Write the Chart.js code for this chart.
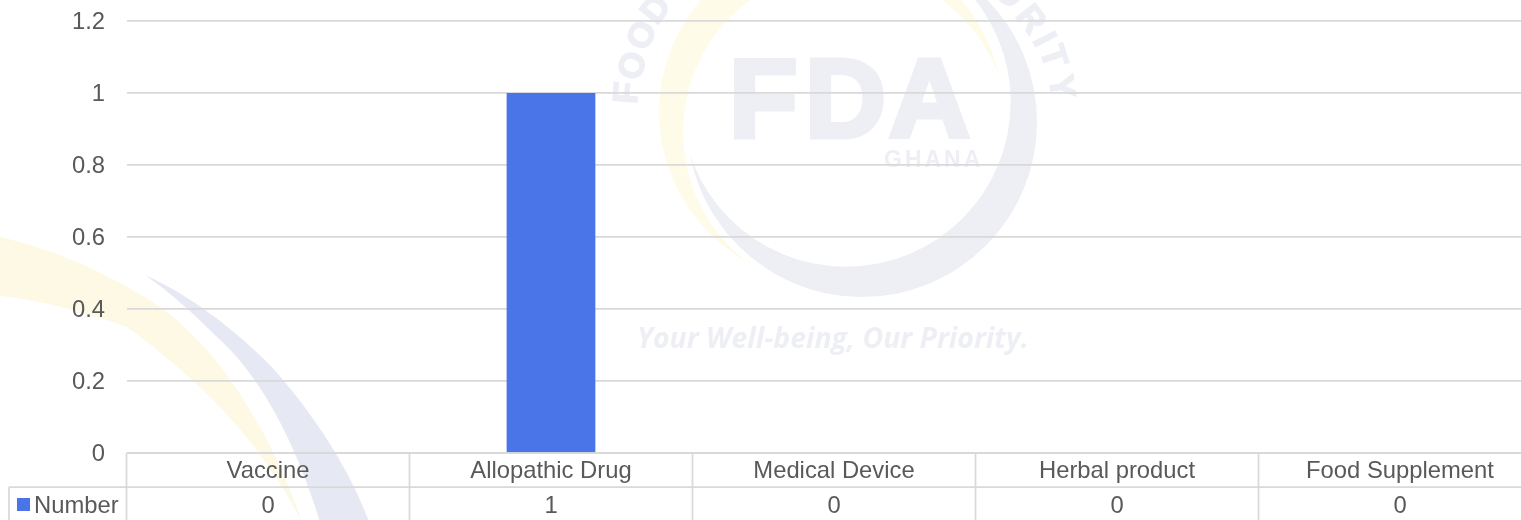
<!DOCTYPE html>
<html><head><meta charset="utf-8">
<style>html,body{margin:0;padding:0;background:#fff;overflow:hidden;width:1521px;height:520px}canvas{display:block}</style>
<script src="https://cdn.jsdelivr.net/npm/chart.js@4"></script>
</head><body><canvas id="c" width="1560" height="520"></canvas>
<script>
const categories = ["Vaccine","Allopathic Drug","Medical Device","Herbal product","Food Supplement"];
const seriesName = "Number";
const numberValues = [0,1,0,0,0];
const yTicks = [0,0.2,0.4,0.6,0.8,1,1.2];

const FONT = '"Liberation Sans", Arial, sans-serif';
const TXT = '#595959', LINE = '#d9d9d9', BAR = '#4a75e9';
const FS = 23.8;

function crescent(ctx, outer, inner, color){
  ctx.save();
  ctx.beginPath(); ctx.arc(outer[0],outer[1],outer[2],0,Math.PI*2); ctx.clip();
  ctx.beginPath(); ctx.rect(0,-50,1560,620); ctx.arc(inner[0],inner[1],inner[2],0,Math.PI*2,true);
  ctx.fillStyle=color; ctx.fill('evenodd');
  ctx.restore();
}
const watermark = {
  id:'watermark',
  beforeDraw(chart){
    const ctx=chart.ctx; ctx.save();
    ctx.fillStyle='#fff'; ctx.fillRect(0,0,chart.width,chart.height);
    ctx.fillStyle='#fdf9e5';
    ctx.beginPath(); ctx.moveTo(0,237);
    ctx.bezierCurveTo(60,250,120,280,160,307);
    ctx.bezierCurveTo(220,350,270,430,302,522);
    ctx.bezierCurveTo(260,440,200,380,127,327);
    ctx.bezierCurveTo(85,312,40,300,0,296);
    ctx.closePath(); ctx.fill();
    ctx.fillStyle='#e6e8f3';
    ctx.beginPath(); ctx.moveTo(145,275);
    ctx.bezierCurveTo(190,295,235,330,270,365);
    ctx.bezierCurveTo(315,415,350,470,369,522);
    ctx.lineTo(320,522);
    ctx.bezierCurveTo(295,440,260,375,215,335);
    ctx.bezierCurveTo(195,315,170,292,145,275);
    ctx.closePath(); ctx.fill();
    crescent(ctx,[831,112,172],[846,132,163],'#fefce9');
    crescent(ctx,[862,122,175],[846,102,164.7],'#eeeff5');
    ctx.fillStyle='#eeeff5'; ctx.strokeStyle='#eeeff5'; ctx.lineJoin='miter';
    ctx.textBaseline='alphabetic'; ctx.textAlign='left';
    ctx.font='bold 112px '+FONT; ctx.lineWidth=5;
    [['F',729,137],['D',805,137],['A',889,137]].forEach(([s,x,y])=>{ctx.fillText(s,x,y);ctx.strokeText(s,x,y);});
    ctx.font='bold 23px '+FONT; ctx.letterSpacing='3px';
    ctx.fillText('GHANA',884,167);
    ctx.letterSpacing='0px';
    ctx.font='italic bold 28.4px "Open Sans", '+FONT;
    ctx.fillText('Your Well-being, Our Priority.',637,348);
    ctx.font='bold 35px '+FONT; ctx.textAlign='center'; ctx.textBaseline='middle'; ctx.lineWidth=1.5;
    [['F',628,93,-85],['O',634,66,-72],['O',643,36,-62],['D',657,10,-52],
     ['O',1008,-6,40],['R',1030,20,52],['I',1043,40,63],['T',1052,57,72],['Y',1060,87,82]]
    .forEach(([s,x,y,a])=>{ctx.save();ctx.translate(x,y);ctx.rotate(a*Math.PI/180);ctx.fillText(s,0,0);ctx.strokeText(s,0,0);ctx.restore();});
    ctx.restore();
  }
};
const dataTable = {
  id:'dataTable',
  afterDraw(chart){
    const ctx=chart.ctx, x=chart.scales.x, area=chart.chartArea;
    const step=x.getPixelForTick(1)-x.getPixelForTick(0);
    const top=area.bottom, row=top+34, right=area.right, bottom=chart.height+4, left=9;
    ctx.save();
    ctx.strokeStyle=LINE; ctx.lineWidth=1.75;
    ctx.beginPath();
    ctx.moveTo(area.left,top); ctx.lineTo(right,top);
    ctx.moveTo(left,row); ctx.lineTo(right,row);
    ctx.moveTo(left,row); ctx.lineTo(left,bottom);
    categories.forEach((c,i)=>{const p=x.getPixelForTick(i)-step/2; ctx.moveTo(p,top); ctx.lineTo(p,bottom);});
    ctx.moveTo(right,top); ctx.lineTo(right,bottom);
    ctx.stroke();
    ctx.fillStyle=TXT; ctx.font=FS+'px '+FONT; ctx.textBaseline='middle';
    ctx.textAlign='center';
    numberValues.forEach((v,i)=>ctx.fillText(String(v),x.getPixelForTick(i),row+19));
    ctx.textAlign='left';
    ctx.fillText(seriesName,34,row+19);
    ctx.fillStyle=BAR; ctx.fillRect(17,row+11,13,13);
    ctx.restore();
  }
};
new Chart(document.getElementById('c'),{
  type:'bar',
  data:{labels:categories,datasets:[{label:seriesName,data:numberValues,backgroundColor:BAR,barPercentage:1,categoryPercentage:0.3135}]},
  options:{
    responsive:false,animation:false,
    layout:{padding:{top:21,right:18.5,left:0,bottom:0}},
    plugins:{legend:{display:false},title:{display:false},tooltip:{enabled:false}},
    scales:{
      x:{
        afterFit(s){s.height=67;s.paddingTop=0;s.paddingBottom=0;},
        grid:{display:false},border:{display:false},
        ticks:{color:TXT,font:{family:FONT,size:FS},padding:-4,maxRotation:0,autoSkip:false}
      },
      y:{
        min:0,max:1.2,
        afterFit(s){s.width=126.5;s.paddingTop=0;s.paddingBottom=0;},
        afterBuildTicks(s){s.ticks=yTicks.map(v=>({value:v}));},
        grid:{color:LINE,lineWidth:1.75,drawTicks:false},border:{display:false},
        ticks:{color:TXT,font:{family:FONT,size:FS},padding:21.5,labelOffset:1,callback:v=>String(v)}
      }
    }
  },
  plugins:[watermark,dataTable]
});
</script></body></html>
